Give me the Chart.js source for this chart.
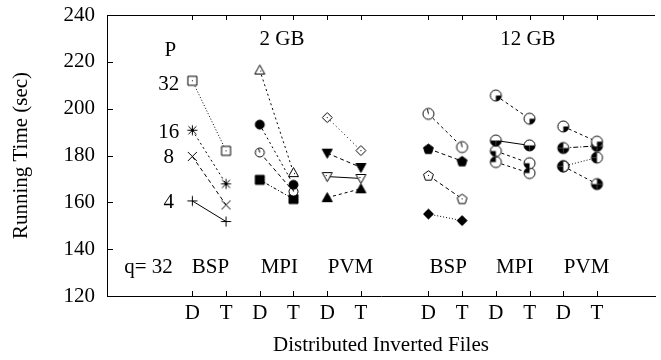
<!DOCTYPE html>
<html>
<head>
<meta charset="utf-8">
<script src="https://cdn.jsdelivr.net/npm/chart.js@4.4.1/dist/chart.umd.min.js"></script>
<style>
  body { margin: 0; background: #fff; }
</style>
</head>
<body>
<canvas id="chart" width="661" height="360"></canvas>
<script>
// x slots: D/T pairs for BSP, MPI, PVM at 2 GB then 12 GB
var xTickVals = [1, 2, 3, 4, 5, 6, 8, 9, 10, 11, 12, 13];
var xTickLabels = ["D", "T", "D", "T", "D", "T", "D", "T", "D", "T", "D", "T"];
var yTickVals = [120, 140, 160, 180, 200, 220, 240];

// running time (sec), 4 processor counts each (P = 32, 16, 8, 4 for BSP 2GB)
var bsp2D = [211.9, 190.8, 179.6, 160.6];
var bsp2T = [182.0, 167.9, 158.9, 151.8];
var mpi2D = [216.5, 193.2, 181.3, 169.6];
var mpi2T = [172.7, 167.5, 164.6, 161.4];
var pvm2D = [196.2, 181.0, 171.0, 162.0];
var pvm2T = [182.1, 174.9, 170.2, 165.8];
var bsp12D = [197.8, 182.9, 171.5, 155.0];
var bsp12T = [183.6, 177.6, 161.5, 152.2];
var mpi12D = [205.6, 186.4, 181.9, 177.2];
var mpi12T = [195.7, 184.3, 176.7, 172.5];
var pvm12D = [192.4, 183.2, 175.4, 175.4];
var pvm12T = [185.9, 184.1, 179.1, 167.8];

// text written inside the plot, in data coordinates
var noteText = ["P", "32", "16", "8", "4", "2 GB", "12 GB", "q= 32", "BSP", "MPI", "PVM", "BSP", "MPI", "PVM"];
var noteX = [0.35, 0.61, 0.61, 0.46, 0.46, 3.66, 10.95, -0.30, 1.54, 3.58, 5.69, 8.59, 10.56, 12.69];
var noteY = [224.7, 210.2, 189.7, 179.2, 159.8, 229.4, 229.4, 132.0, 132.0, 132.0, 132.0, 132.0, 132.0, 132.0];
var noteAlign = ["center", "right", "right", "right", "right", "center", "center", "center", "center", "center", "center", "center", "center", "center"];

var serif = "'Liberation Serif', 'DejaVu Serif', serif";

// ---- marker images ----
function marker(fn) {
    var c = document.createElement("canvas");
    c.width = 17; c.height = 17;
    var g = c.getContext("2d");
    g.strokeStyle = "#000"; g.fillStyle = "#000"; g.lineWidth = 1;
    fn(g, 8.5);
    return c;
}
function poly(g, pts, fill) {
    g.beginPath();
    g.moveTo(pts[0][0], pts[0][1]);
    for (var i = 1; i < pts.length; i++) g.lineTo(pts[i][0], pts[i][1]);
    g.closePath();
    if (fill) { g.fill(); } else { g.fillStyle = "#fff"; g.fill(); g.fillStyle = "#000"; }
    g.stroke();
}
function dot(g, c) { g.fillRect(c - 0.5, c - 0.5, 1, 1); }
function square(fill) { return marker(function (g, c) { poly(g, [[c-4.5,c-4.5],[c+4.5,c-4.5],[c+4.5,c+4.5],[c-4.5,c+4.5]], fill); if (!fill) dot(g, c); }); }
function triUp(fill) { return marker(function (g, c) { poly(g, [[c,c-5],[c+5,c+4],[c-5,c+4]], fill); if (!fill) dot(g, c+1); }); }
function triDown(fill) { return marker(function (g, c) { poly(g, [[c-5,c-4],[c+5,c-4],[c,c+5]], fill); if (!fill) dot(g, c-1); }); }
function diamond(fill) { return marker(function (g, c) { poly(g, [[c,c-5],[c+5,c],[c,c+5],[c-5,c]], fill); if (!fill) dot(g, c); }); }
function pentagon(fill) {
    return marker(function (g, c) {
        var pts = [];
        for (var i = 0; i < 5; i++) {
            var a = -Math.PI / 2 + i * 2 * Math.PI / 5;
            pts.push([c + 5.2 * Math.cos(a), c + 0.5 + 5.2 * Math.sin(a)]);
        }
        poly(g, pts, fill);
        if (!fill) dot(g, c);
    });
}
function circle(fill, r) {
    return marker(function (g, c) {
        g.beginPath(); g.arc(c, c, r, 0, 2 * Math.PI);
        if (fill) g.fill(); else { g.fillStyle = "#fff"; g.fill(); g.fillStyle = "#000"; }
        g.stroke();
        if (!fill) { g.beginPath(); g.moveTo(c, c); g.lineTo(c - 1, c - r + 1); g.stroke(); }
    });
}
// circle with some quadrants filled: tr, tl, bl, br
function quad(parts) {
    var ang = { tr: [-Math.PI / 2, 0], br: [0, Math.PI / 2], bl: [Math.PI / 2, Math.PI], tl: [Math.PI, 1.5 * Math.PI] };
    return marker(function (g, c) {
        var r = 5.5;
        g.beginPath(); g.arc(c, c, r, 0, 2 * Math.PI); g.fillStyle = "#fff"; g.fill(); g.fillStyle = "#000";
        parts.forEach(function (p) {
            g.beginPath(); g.moveTo(c, c); g.arc(c, c, r, ang[p][0], ang[p][1]); g.closePath(); g.fill();
        });
        g.beginPath(); g.arc(c, c, r, 0, 2 * Math.PI); g.stroke();
    });
}
var plus = marker(function (g, c) { g.beginPath(); g.moveTo(c-5,c); g.lineTo(c+5,c); g.moveTo(c,c-5); g.lineTo(c,c+5); g.stroke(); });
var cross = marker(function (g, c) { g.beginPath(); g.moveTo(c-4.5,c-4.5); g.lineTo(c+4.5,c+4.5); g.moveTo(c+4.5,c-4.5); g.lineTo(c-4.5,c+4.5); g.stroke(); });
var star = marker(function (g, c) {
    g.beginPath();
    g.moveTo(c-4,c-4); g.lineTo(c+4,c+4); g.moveTo(c+4,c-4); g.lineTo(c-4,c+4);
    g.moveTo(c,c-5); g.lineTo(c,c+5); g.moveTo(c-5,c); g.lineTo(c+5,c);
    g.stroke();
});

var groups = [
    { d: 1, D: bsp2D, T: bsp2T, marks: [square(false), star, cross, plus], dash: [[1, 2], [2, 3], [4, 3], []] },
    { d: 3, D: mpi2D, T: mpi2T, marks: [triUp(false), circle(true, 4.5), circle(false, 4.5), square(true)], dash: [[2, 3], [2, 3], [4, 3], [3, 2, 1, 2]] },
    { d: 5, D: pvm2D, T: pvm2T, marks: [diamond(false), triDown(true), triDown(false), triUp(true)], dash: [[1, 3], [4, 3], [], [3, 3]] },
    { d: 8, D: bsp12D, T: bsp12T, marks: [circle(false, 5.5), pentagon(true), pentagon(false), diamond(true)], dash: [[3, 3], [4, 3], [4, 3], [1, 2]] },
    { d: 10, D: mpi12D, T: mpi12T, marks: [quad(["br"]), quad(["bl", "br"]), quad(["bl"]), quad(["tl"])], dash: [[3, 3], [], [3, 3], [3, 3]] },
    { d: 12, D: pvm12D, T: pvm12T, marks: [quad(["br"]), quad(["tl", "bl", "br"]), quad(["tl", "bl"]), quad(["tr", "bl", "br"])], dash: [[3, 3], [5, 2, 1, 2], [1, 2], [3, 3]] }
];

var datasets = [];
groups.forEach(function (gr) {
    for (var i = 0; i < 4; i++) {
        datasets.push({
            data: [{ x: gr.d, y: gr.D[i] }, { x: gr.d + 1, y: gr.T[i] }],
            showLine: true,
            borderColor: "#000",
            borderWidth: 1,
            borderDash: gr.dash[i],
            pointStyle: gr.marks[i],
            pointRadius: 5,
            backgroundColor: "#000"
        });
    }
});

var frame = {
    id: "frame",
    afterDraw: function (chart) {
        var ctx = chart.ctx, a = chart.chartArea, x = chart.scales.x, y = chart.scales.y;
        ctx.save();
        ctx.strokeStyle = "#000";
        ctx.lineWidth = 1;
        ctx.beginPath();
        ctx.moveTo(a.left, Math.round(a.top) + 0.5);
        ctx.lineTo(a.right, Math.round(a.top) + 0.5);
        x.ticks.forEach(function (t) {
            var px = Math.round(x.getPixelForValue(t.value)) + 0.5;
            ctx.moveTo(px, a.bottom); ctx.lineTo(px, a.bottom - 5);
            ctx.moveTo(px, a.top); ctx.lineTo(px, a.top + 5);
        });
        y.ticks.forEach(function (t) {
            var py = Math.round(y.getPixelForValue(t.value)) + 0.5;
            ctx.moveTo(a.left, py); ctx.lineTo(a.left + 6, py);
        });
        ctx.stroke();

        ctx.fillStyle = "#000";
        ctx.font = "21px " + serif;
        ctx.textBaseline = "middle";
        for (var i = 0; i < noteText.length; i++) {
            ctx.textAlign = noteAlign[i];
            ctx.fillText(noteText[i], x.getPixelForValue(noteX[i]), y.getPixelForValue(noteY[i]));
        }
        ctx.restore();
    }
};

new Chart(document.getElementById("chart").getContext("2d"), {
    type: "scatter",
    data: { datasets: datasets },
    options: {
        responsive: false,
        animation: false,
        layout: { padding: { top: 15, left: 0, right: 0, bottom: 0 } },
        scales: {
            x: {
                type: "linear",
                min: -1.53,
                max: 14.72,
                afterBuildTicks: function (s) { s.ticks = xTickVals.map(function (v) { return { value: v }; }); },
                afterFit: function (s) { s.height = 64; s.paddingLeft = 0; s.paddingRight = 0; },
                grid: { display: false, drawTicks: false },
                border: { display: true, color: "#000", width: 1 },
                ticks: {
                    autoSkip: false,
                    maxRotation: 0,
                    padding: 5,
                    color: "#000",
                    font: { family: serif, size: 21 },
                    callback: function (v, i) { return xTickLabels[i]; }
                },
                title: {
                    display: true,
                    text: "Distributed Inverted Files",
                    color: "#000",
                    font: { family: serif, size: 21, lineHeight: 1.2 },
                    padding: { top: 0, bottom: 2 }
                }
            },
            y: {
                min: 120,
                max: 240,
                afterBuildTicks: function (s) { s.ticks = yTickVals.map(function (v) { return { value: v }; }); },
                afterFit: function (s) { s.width = 107; s.paddingTop = 0; s.paddingBottom = 0; },
                grid: { display: false, drawTicks: false },
                border: { display: true, color: "#000", width: 1 },
                ticks: {
                    padding: 12,
                    color: "#000",
                    font: { family: serif, size: 21 }
                },
                title: {
                    display: true,
                    text: "Running Time (sec)",
                    color: "#000",
                    font: { family: serif, size: 21, lineHeight: 1.2 },
                    padding: { top: 9, bottom: 0 }
                }
            }
        },
        plugins: {
            legend: { display: false },
            tooltip: { enabled: false }
        }
    },
    plugins: [frame]
});
</script>
</body>
</html>
